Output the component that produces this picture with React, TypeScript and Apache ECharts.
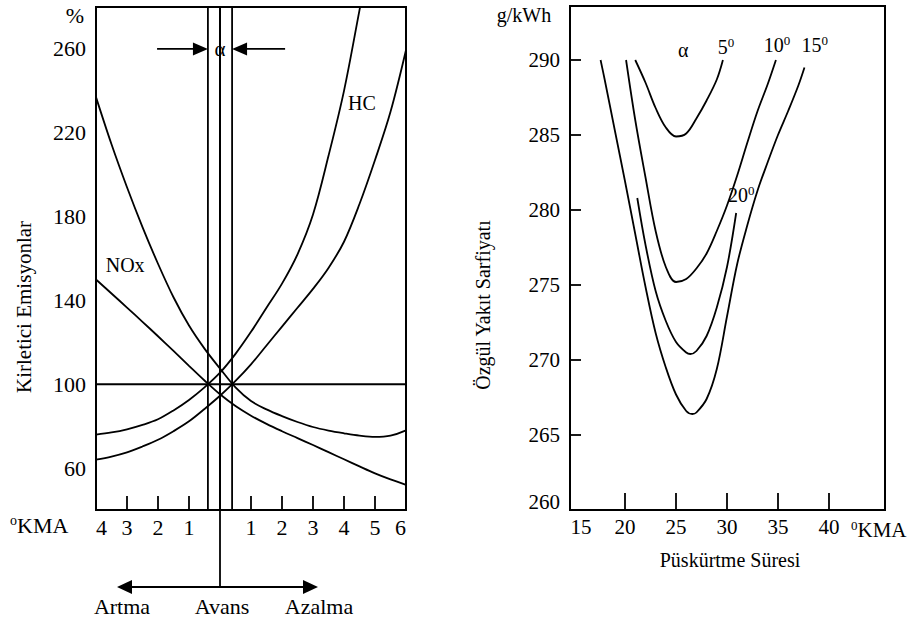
import React, { useEffect, useRef } from "react";
import * as echarts from "echarts";

// ---------- Left panel: pollutant emissions vs injection advance (°KMA) ----------
const leftXMin = -4;
const leftXMax = 6;
const leftYMin = 40;
const leftYMax = 280;
const leftYLabels = [60, 100, 140, 180, 220, 260];
const alphaLines = [-0.39, 0.39];
const baseline = 100;

const noxA: number[][] = [[-4, 150], [-3.5, 143.3], [-3, 136.6], [-2.5, 129.8], [-2, 122.9], [-1.5, 115.9], [-1, 108.8], [-0.5, 101.8], [0, 95.2], [0.5, 89.6], [1, 85], [1.5, 81.1], [2, 77.6], [2.5, 74.3], [3, 71], [3.5, 67.6], [4, 64.2], [4.5, 60.8], [5, 57.5], [5.5, 54.6], [6, 52]];
const noxB: number[][] = [[-4, 237], [-3.5, 214.5], [-3, 194], [-2.5, 175], [-2, 157.5], [-1.5, 141.5], [-1, 128], [-0.5, 117], [0, 107.5], [0.5, 98.5], [1, 92], [1.5, 88], [2, 84.8], [2.5, 82], [3, 79.6], [3.5, 77.9], [4, 76.6], [4.5, 75.5], [5, 74.9], [5.5, 75.5], [6, 78]];
const hcA: number[][] = [[-4, 76], [-3.5, 77], [-3, 78.5], [-2.5, 80.6], [-2, 83.3], [-1.5, 87.5], [-1, 92.5], [-0.5, 98.5], [0, 105.5], [0.5, 114.5], [1, 125], [1.5, 136.5], [2, 148], [2.5, 162], [3, 181], [3.5, 209], [4, 240], [4.5, 278.5], [4.55, 282.5]];
const hcB: number[][] = [[-4, 64], [-3.5, 65.5], [-3, 67.5], [-2.5, 70.3], [-2, 73.5], [-1.5, 77.6], [-1, 82.3], [-0.5, 88.2], [0, 94.5], [0.5, 101.6], [1, 109.5], [1.5, 118.5], [2, 127.5], [2.5, 136.5], [3, 145.5], [3.5, 155.5], [4, 168], [4.5, 186], [5, 207], [5.5, 230], [6, 259.5]];

// ---------- Right panel: specific fuel consumption vs injection duration ----------
const rightXMin = 14.6;
const rightXMax = 45.5;
const rightXLabels = [15, 20, 25, 30, 35, 40];
const rightXTicks = [20, 25, 30, 35, 40];
const rightYMin = 260;
const rightYMax = 293.6;

const sfc5: number[][] = [[21, 290], [22, 288.5], [23, 286.8], [24, 285.5], [25, 284.9], [26, 285.1], [27, 286.1], [28, 287.3], [29, 288.7], [29.6, 290]];
const sfc10: number[][] = [[20.1, 290], [21, 286], [22, 282.2], [23, 278.6], [24, 276.2], [25, 275.2], [26, 275.4], [27, 276.1], [28, 277.1], [29, 278.6], [30, 280.3], [31, 282.3], [32, 284.5], [33, 286.6], [34, 288.4], [34.8, 290]];
const sfc15: number[][] = [[17.6, 290], [18, 288.7], [19, 285.3], [20, 281.9], [21, 278.4], [22, 274.9], [23, 271.8], [24, 269.5], [25, 267.7], [26, 266.6], [26.6, 266.4], [27, 266.5], [28, 267.4], [29, 269.4], [30, 272.9], [31, 276.4], [32, 279], [33, 281.3], [34, 283.2], [35, 285], [36, 286.6], [37, 288.3], [37.6, 289.5]];
const sfc20: number[][] = [[21.2, 280.8], [22, 277.7], [23, 274.6], [24, 272.6], [25, 271.2], [26, 270.5], [26.4, 270.4], [27, 270.6], [28, 271.6], [29, 273.5], [30, 276.2], [30.9, 279.8]];

const FONT = "Liberation Serif";

export default function App() {
  const ref = useRef<HTMLDivElement>(null);

  useEffect(() => {
    if (!ref.current) return;
    const chart = echarts.init(ref.current, null, { renderer: "svg" });

    const curve = (data: number[][], gi: number, smooth: number | boolean = 0.35) => ({
      type: "line",
      xAxisIndex: gi,
      yAxisIndex: gi,
      data,
      symbol: "none",
      showSymbol: false,
      smooth,
      silent: true,
      lineStyle: { color: "#000", width: 1.8 },
      z: 3,
    });

    const axisLineStyle = { show: true, lineStyle: { color: "#000", width: 2 } };
    const lblBase = { color: "#000", fontFamily: FONT };

    chart.setOption({
      animation: false,
      backgroundColor: "#fff",
      textStyle: { fontFamily: FONT },
      grid: [
        { left: 96, top: 7, width: 310, height: 503, show: true, borderColor: "#000", borderWidth: 2, backgroundColor: "transparent" },
        { left: 570, top: 6, width: 315, height: 504, show: true, borderColor: "#000", borderWidth: 2, backgroundColor: "transparent" },
      ],
      xAxis: [
        {
          type: "value", gridIndex: 0, min: leftXMin, max: leftXMax, interval: 1,
          axisLine: axisLineStyle,
          axisTick: { show: true, inside: true, length: 14, lineStyle: { color: "#000", width: 1.8 } },
          axisLabel: {
            ...lblBase, fontSize: 22, margin: 6,
            alignMinLabel: "left", alignMaxLabel: "right",
            formatter: (v: number) => (v === 0 ? "" : String(Math.abs(v))),
          },
          splitLine: { show: false },
        },
        {
          type: "value", gridIndex: 1, min: rightXMin, max: rightXMax,
          axisLine: axisLineStyle,
          axisTick: { show: true, inside: true, length: 17, customValues: rightXTicks, lineStyle: { color: "#000", width: 1.8 } },
          axisLabel: {
            ...lblBase, fontSize: 21, margin: 6, customValues: rightXLabels,
            formatter: (v: number) => (v === 15 ? "{m|15}" : String(v)),
            rich: { m: { fontSize: 21, fontFamily: FONT, color: "#000", padding: [0, 0, 0, 14] } },
          },
          splitLine: { show: false },
        },
      ],
      yAxis: [
        {
          type: "value", gridIndex: 0, min: leftYMin, max: leftYMax, interval: 20,
          axisLine: axisLineStyle,
          axisTick: { show: false },
          axisLabel: {
            ...lblBase, fontSize: 22, margin: 10,
            formatter: (v: number) => (leftYLabels.includes(v) ? String(v) : ""),
          },
          splitLine: { show: false },
        },
        {
          type: "value", gridIndex: 1, min: rightYMin, max: rightYMax, interval: 5,
          axisLine: axisLineStyle,
          axisTick: { show: true, inside: true, length: 11, lineStyle: { color: "#000", width: 1.8 } },
          axisLabel: {
            ...lblBase, fontSize: 21, margin: 10,
            formatter: (v: number) => {
              if (Math.abs(v % 5) > 1e-6) return "";
              return v === rightYMin ? "{b|" + v + "}" : String(v);
            },
            rich: { b: { fontSize: 21, fontFamily: FONT, color: "#000", padding: [0, 0, 16, 0] } },
          },
          splitLine: { show: false },
        },
      ],
      series: [
        curve(noxA, 0),
        curve(noxB, 0),
        curve(hcA, 0),
        curve(hcB, 0),
        curve([[leftXMin, baseline], [leftXMax, baseline]], 0, false),
        ...alphaLines.map((a) => curve([[a, leftYMin], [a, leftYMax]], 0, false)),
        curve(sfc5, 1),
        curve(sfc10, 1),
        curve(sfc15, 1),
        curve(sfc20, 1),
      ],
    });

    const p0 = (x: number, y: number) => chart.convertToPixel({ gridIndex: 0 }, [x, y]) as number[];
    const p1 = (x: number, y: number) => chart.convertToPixel({ gridIndex: 1 }, [x, y]) as number[];

    const txt = (x: number, y: number, text: string, extra: any = {}, el: any = {}) => ({
      type: "text", x, y, silent: true, z: 10, ...el,
      style: { text, fill: "#000", fontFamily: FONT, fontSize: 21, align: "center", verticalAlign: "middle", ...extra },
    });
    const ln = (x1: number, y1: number, x2: number, y2: number, w = 1.8) => ({
      type: "line", silent: true, z: 10,
      shape: { x1, y1, x2, y2 },
      style: { stroke: "#000", lineWidth: w },
    });
    const tri = (pts: number[][]) => ({ type: "polygon", silent: true, z: 10, shape: { points: pts }, style: { fill: "#000" } });
    const supRich = (main: number, sup: number) => ({
      n: { fontSize: main, fontFamily: FONT, fill: "#000", color: "#000", lineHeight: main + 2 },
      s: { fontSize: sup, fontFamily: FONT, fill: "#000", color: "#000", lineHeight: sup, verticalAlign: "top" },
    });

    const els: any[] = [];
    const head = 15;
    const hw = 6.5;

    // alpha arrows at the top of the left panel
    const [, ay] = p0(0, 260);
    const [lStart] = p0(-2.03, 260);
    const [lTip] = p0(alphaLines[0], 260);
    const [rStart] = p0(2.1, 260);
    const [rTip] = p0(alphaLines[1], 260);
    els.push(ln(lStart, ay, lTip - head + 1, ay));
    els.push(tri([[lTip - head, ay - hw], [lTip, ay], [lTip - head, ay + hw]]));
    els.push(ln(rStart, ay, rTip + head - 1, ay));
    els.push(tri([[rTip + head, ay - hw], [rTip, ay], [rTip + head, ay + hw]]));
    const [acx] = p0(0, 260);
    els.push(txt(acx, ay, "α", { fontSize: 21 }));

    // curve labels left
    const [nx, ny] = p0(-3.06, 157);
    els.push(txt(nx, ny, "NOx", { fontSize: 20 }));
    const [hx, hy] = p0(4.58, 234);
    els.push(txt(hx, hy, "HC", { fontSize: 20 }));

    // bottom stem and direction arrow
    const [sx, sy] = p0(0, leftYMin);
    const arrY = sy + 77;
    els.push(ln(sx, sy, sx, arrY, 1.8));
    const la = sx - 103;
    const ra = sx + 98;
    els.push(ln(la + head - 1, arrY, ra - head + 1, arrY, 2));
    els.push(tri([[la + head, arrY - 7], [la, arrY], [la + head, arrY + 7]]));
    els.push(tri([[ra - head, arrY - 7], [ra, arrY], [ra - head, arrY + 7]]));
    els.push(txt(sx - 98, arrY + 19, "Artma", { fontSize: 22 }));
    els.push(txt(sx + 2, arrY + 19, "Avans", { fontSize: 22 }));
    els.push(txt(sx + 99, arrY + 19, "Azalma", { fontSize: 22 }));

    // left axis texts
    els.push(txt(10, 525, "{s|o}{n|KMA}", { align: "left", rich: supRich(22, 14) }));
    els.push(txt(75, 15, "%", { fontSize: 22 }));
    els.push(txt(24, 307, "Kirletici Emisyonlar", { fontSize: 21 }, { rotation: Math.PI / 2 }));

    // right panel texts
    els.push(txt(524, 15, "g/kWh", { fontSize: 20 }));
    els.push(txt(483, 305, "Özgül Yakıt Sarfiyatı", { fontSize: 20 }, { rotation: Math.PI / 2 }));
    els.push(txt(730, 560, "Püskürtme Süresi", { fontSize: 20 }));
    els.push(txt(851, 530, "{s|0}{n|KMA}", { align: "left", rich: supRich(21, 13) }));

    const [alx, aly] = p1(25.7, 290.7);
    els.push(txt(alx, aly, "α", { fontSize: 20 }));
    const angleLabels: [string, string, number, number][] = [
      ["5", "0", 29.1, 290.9],
      ["10", "0", 33.6, 291.0],
      ["15", "0", 37.3, 291.0],
      ["20", "0", 30.1, 281.0],
    ];
    angleLabels.forEach(([m, s, x, y]) => {
      const [px, py] = p1(x, y);
      els.push(txt(px, py, "{n|" + m + "}{s|" + s + "}", { align: "left", rich: supRich(20, 13) }));
    });

    chart.setOption({ graphic: { elements: els } });

    return () => chart.dispose();
  }, []);

  return (
    <div
      ref={ref}
      style={{ position: "absolute", left: 0, top: 0, width: 909, height: 623, background: "#fff" }}
    />
  );
}
